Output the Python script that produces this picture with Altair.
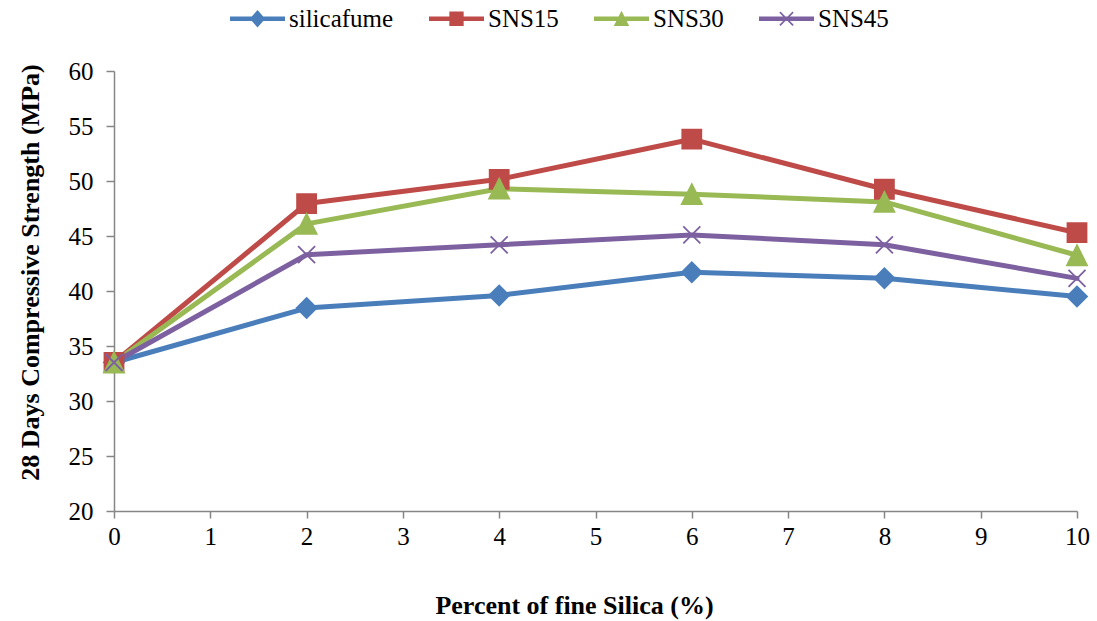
import altair as alt
import pandas as pd

# ---- data ----
x_vals = [0, 2, 4, 6, 8, 10]
series = ["silicafume", "SNS15", "SNS30", "SNS45"]
silicafume = [33.5, 38.45, 39.6, 41.7, 41.15, 39.5]
sns15 = [33.5, 47.95, 50.15, 53.8, 49.25, 45.3]
sns30 = [33.5, 46.1, 49.3, 48.8, 48.1, 43.25]
sns45 = [33.5, 43.3, 44.2, 45.1, 44.2, 41.15]
y_ticks = [20, 25, 30, 35, 40, 45, 50, 55, 60]
x_ticks = [0, 1, 2, 3, 4, 5, 6, 7, 8, 9, 10]

# ---- styles ----
FONT = "Liberation Serif, Times New Roman, serif"
colors = ["#4A7EBB", "#BE4B48", "#98B954", "#7D60A0"]
marker_paths = [
    "M-1,0L0,-1L1,0L0,1Z",
    "M-0.95,-0.95H0.95V0.95H-0.95Z",
    "M0,-1L1,1H-1Z",
    "M-0.85,-0.85L0.85,0.85M-0.85,0.85L0.85,-0.85",
]
bar = "M-1,-0.085H1V0.085H-1Z"
legend_paths = [
    bar + "M-0.28,0L0,-0.32L0.28,0L0,0.32Z",
    bar + "M-0.26,-0.26H0.26V0.26H-0.26Z",
    bar + "M0,-0.29L0.28,0.26H-0.28Z",
    bar + "M-0.219,-0.261L0.261,0.219L0.219,0.261L-0.261,-0.219Z"
    + "M-0.261,0.219L0.219,-0.261L0.261,-0.219L-0.219,0.261Z",
]

values = [silicafume, sns15, sns30, sns45]
rows = []
for name, vals in zip(series, values):
    for xv, yv in zip(x_vals, vals):
        rows.append({"x": xv, "y": yv, "series": name})
df = pd.DataFrame(rows)

legend = alt.Legend(
    orient="none",
    legendX=116,
    legendY=-80,
    direction="horizontal",
    title=None,
    symbolSize=3025,
    symbolStrokeWidth=0,
    symbolOpacity=1,
    labelFont=FONT,
    labelFontSize=25,
    labelColor="black",
    labelOffset=4,
    columnPadding=35,
    padding=0,
)

axis_common = dict(
    grid=False,
    domainColor="#868686",
    tickColor="#868686",
    domainWidth=1.5,
    tickWidth=1.5,
    labelFont=FONT,
    labelFontSize=25,
    labelColor="black",
    titleFont=FONT,
    titleFontSize=26,
    titleFontWeight="bold",
    titleColor="black",
    labelFlush=False,
)

x_enc = alt.X(
    "x:Q",
    scale=alt.Scale(domain=[0, 10], nice=False, zero=False),
    axis=alt.Axis(
        values=x_ticks,
        title="Percent of fine Silica (%)",
        tickSize=7,
        labelPadding=6,
        titleX=460,
        titleY=94,
        titleAlign="center",
        titleBaseline="middle",
        **axis_common,
    ),
)
y_enc = alt.Y(
    "y:Q",
    scale=alt.Scale(domain=[20, 60], nice=False, zero=False),
    axis=alt.Axis(
        values=y_ticks,
        title="28 Days Compressive Strength (MPa)",
        tickSize=8,
        labelPadding=13,
        titleX=-84,
        titleY=201,
        titleAngle=270,
        titleAlign="center",
        titleBaseline="middle",
        **axis_common,
    ),
)
color_scale = alt.Scale(domain=series, range=colors)

lines = alt.Chart(df).mark_line(
    strokeWidth=5, strokeJoin="round", strokeCap="round"
).encode(
    x=x_enc,
    y=y_enc,
    color=alt.Color("series:N", scale=color_scale, legend=None),
    order=alt.Order("x:Q"),
)

points = alt.Chart(df).mark_point(filled=True, opacity=1, strokeWidth=1.8, size=400).encode(
    x=x_enc,
    y=y_enc,
    color=alt.Color("series:N", scale=color_scale, legend=None),
    stroke=alt.Stroke("series:N", scale=color_scale, legend=None),
    shape=alt.Shape("series:N", scale=alt.Scale(domain=series, range=marker_paths), legend=None),
)

legend_layer = alt.Chart(df).mark_point(filled=True, opacity=1).encode(
    color=alt.Color("series:N", scale=color_scale, legend=legend),
    shape=alt.Shape("series:N", scale=alt.Scale(domain=series, range=legend_paths), legend=legend),
).transform_filter("false")

chart = (
    alt.layer(lines, points, legend_layer)
    .resolve_scale(shape="independent", color="independent")
    .properties(
        width=963,
        height=440,
        autosize=alt.AutoSizeParams(type="none"),
        padding={"left": 114, "top": 71, "right": 20, "bottom": 110},
        background="white",
    )
    .configure_view(stroke=None)
)

chart.save("out.html", embed_options={"renderer": "svg", "actions": False})
